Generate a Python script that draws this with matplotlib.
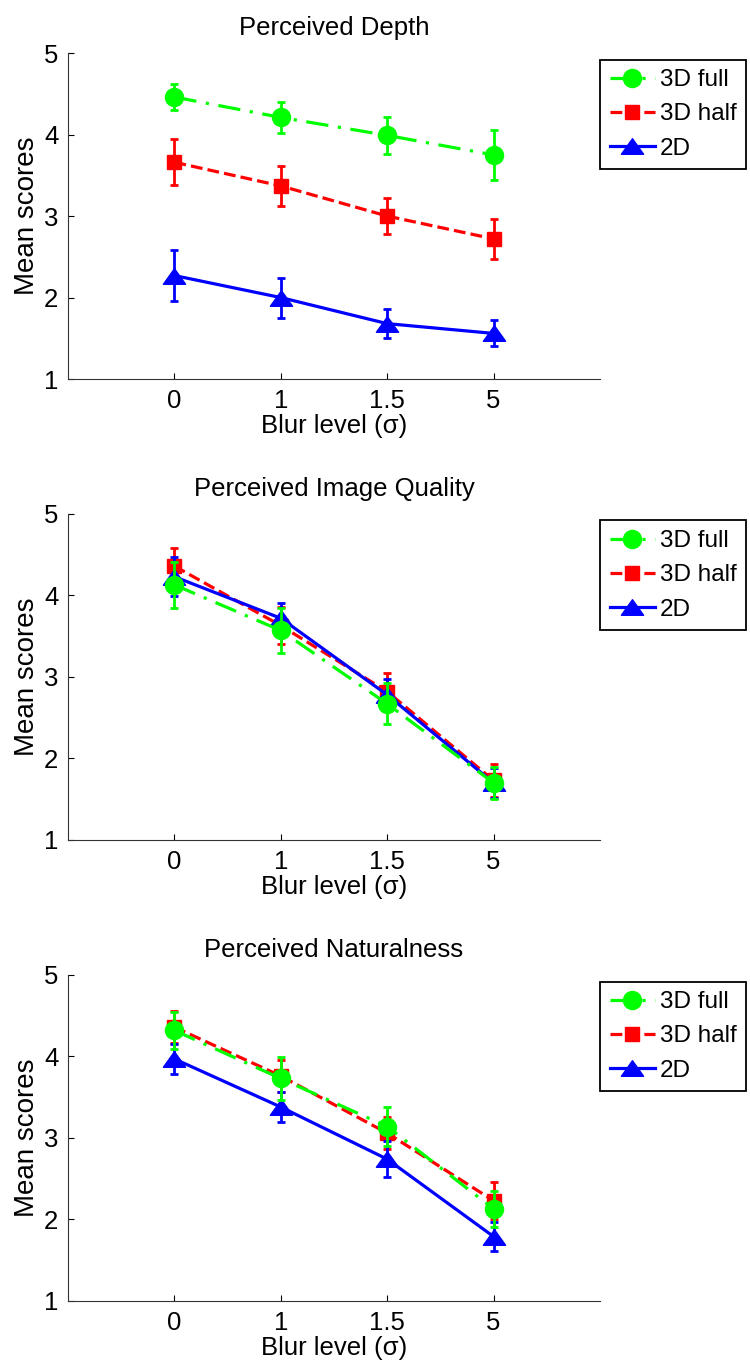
import numpy as np
import matplotlib
matplotlib.use('Agg')
import matplotlib.pyplot as plt
from matplotlib.path import Path

# niveles de desenfoque (etiquetas del eje x)
blur_labels = ['0', '1', '1.5', '5']
series_names = ['3D full', '3D half', '2D']
titles = ['Perceived Depth', 'Perceived Image Quality', 'Perceived Naturalness']

# Perceived Depth
depth_full = [4.46, 4.21, 3.99, 3.75]
depth_full_err = [0.16, 0.19, 0.23, 0.31]
depth_half = [3.66, 3.37, 3.00, 2.72]
depth_half_err = [0.28, 0.245, 0.225, 0.25]
depth_2d = [2.27, 2.00, 1.68, 1.56]
depth_2d_err = [0.31, 0.245, 0.175, 0.16]

# Perceived Image Quality
quality_full = [4.13, 3.57, 2.67, 1.70]
quality_full_err = [0.28, 0.27, 0.25, 0.20]
quality_half = [4.36, 3.63, 2.82, 1.73]
quality_half_err = [0.22, 0.23, 0.23, 0.20]
quality_2d = [4.23, 3.72, 2.78, 1.70]
quality_2d_err = [0.24, 0.19, 0.20, 0.18]

# Perceived Naturalness
natural_full = [4.32, 3.73, 3.14, 2.13]
natural_full_err = [0.225, 0.26, 0.24, 0.225]
natural_half = [4.36, 3.76, 3.06, 2.23]
natural_half_err = [0.20, 0.20, 0.20, 0.23]
natural_2d = [3.97, 3.38, 2.74, 1.79]
natural_2d_err = [0.18, 0.18, 0.22, 0.18]

panels = [
    [(depth_full, depth_full_err), (depth_half, depth_half_err), (depth_2d, depth_2d_err)],
    [(quality_full, quality_full_err), (quality_half, quality_half_err), (quality_2d, quality_2d_err)],
    [(natural_full, natural_full_err), (natural_half, natural_half_err), (natural_2d, natural_2d_err)],
]

# triangulo ancho al estilo MATLAB
tri = Path([(-1, -0.7), (1, -0.7), (0, 0.7), (-1, -0.7)],
           [Path.MOVETO, Path.LINETO, Path.LINETO, Path.CLOSEPOLY])

styles = [
    dict(color='#00ff00', ls=(0, (7, 3, 1, 3)), marker='o', ms=13),
    dict(color='#ff0000', ls='--', marker='s', ms=10.5),
    dict(color='#0000ff', ls='-', marker=tri, ms=16),
]
zorders = [5, 3, 4]

plt.rcParams['font.family'] = ['Liberation Sans', 'DejaVu Sans']

fig = plt.figure(figsize=(7.5, 13.64), dpi=100)
bottoms = [0.7221, 0.3842, 0.0462]
x = np.arange(1, len(blur_labels) + 1)

for i, data in enumerate(panels):
    ax = fig.add_axes([0.0907, bottoms[i], 0.7093, 0.239])
    handles = []
    for (y, err), st, z in zip(data, styles, zorders):
        eb = ax.errorbar(x, y, yerr=err, color=st['color'], ls=st['ls'], lw=2.3,
                         marker=st['marker'], ms=st['ms'], mec=st['color'], mfc=st['color'],
                         elinewidth=2, capsize=3, capthick=2, zorder=z)
        eb[0].set_dash_capstyle('butt')
        handles.append(eb[0])
    ax.set_xlim(0, 5)
    ax.set_ylim(1, 5)
    ax.set_xticks(x)
    ax.set_xticklabels(blur_labels)
    ax.set_yticks([1, 2, 3, 4, 5])
    ax.spines['top'].set_visible(False)
    ax.spines['right'].set_visible(False)
    ax.spines['left'].set_color('#333333')
    ax.spines['bottom'].set_color('#333333')
    ax.tick_params(direction='in', length=4, width=0.8, labelsize=18.5, pad=7)
    ax.set_title(titles[i], fontsize=18.5, pad=13)
    ax.set_xlabel('Blur level (\u03c3)', fontsize=18.5, labelpad=1)
    ax.set_ylabel('Mean scores', fontsize=20, labelpad=3)
    leg = ax.legend(handles, series_names, loc='upper left', bbox_to_anchor=(1.0, 0.98),
                    borderaxespad=0, fontsize=17.5, fancybox=False, edgecolor='black',
                    framealpha=1, handlelength=1.85, handletextpad=0.2,
                    borderpad=0.4, labelspacing=0.5)
    leg.get_frame().set_linewidth(1.3)

plt.savefig('out.png', dpi=100)
